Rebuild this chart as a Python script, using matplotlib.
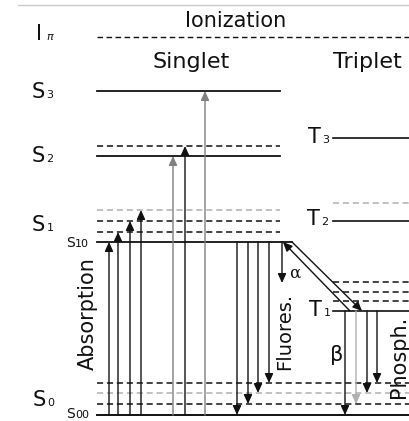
import matplotlib
matplotlib.use("Agg")
import matplotlib.pyplot as plt

# ---- data (diagram coordinates: x across, y = level position, top = 0) ----
ionization_y = 37
singlet_x = (97, 280)
triplet_x = (333, 410)

singlet_solid = [91, 156]                    # S3, S2
singlet_dashed = [146, 221, 232]             # vibrational sub-levels (dark)
singlet_dashed_light = [210]
s10_y = 242
s10_x = (97, 292)
s0_dashed = [383, 404]
s0_dashed_light = [393]
s00_y = 415

triplet_solid = [138, 221, 311]              # T3, T2, T1
triplet_dashed = [282, 292, 301]
triplet_dashed_light = [203]

abs_x = [109, 118, 130, 141, 173, 185, 205]
abs_to = [242, 232, 221, 210, 156, 146, 91]
abs_gray = [False, False, False, False, True, False, True]

flu_x = [237, 248, 258, 269]
flu_to = [415, 404, 393, 383]

phos_x = [345, 356, 367, 377]
phos_to = [415, 404, 393, 383]
phos_gray = [False, True, False, False]
t1_y = 311

alpha_arrow = (282, 242, 283)
isc_down = ((292, 242), (362, 311))
isc_up = ((350, 311), (283, 242))

level_labels = [("S", "3", 38, 92), ("S", "2", 38, 156), ("S", "1", 38, 225),
                ("S", "0", 39, 400), ("T", "3", 314, 137), ("T", "2", 313, 219),
                ("T", "1", 315, 310)]

# ---- drawing ----
fig = plt.figure(figsize=(4.10, 4.21), dpi=100)
ax = fig.add_axes([0, 0, 1, 1])
ax.set_xlim(0, 410)
ax.set_ylim(421, 0)
ax.axis("off")

DARK = "#111111"
LIGHT = "#b0b0b0"
MID = "#808080"

ax.plot([18, 410], [5, 5], color="#c8c8c8", lw=1)
ax.plot([97, 410], [ionization_y] * 2, color=DARK, lw=1, ls=(0, (4, 2.5)))

for y in singlet_solid:
    ax.plot(singlet_x, [y, y], color=DARK, lw=1.3)
for y in singlet_dashed:
    ax.plot(singlet_x, [y, y], color=DARK, lw=1.1, ls=(0, (4, 2.5)))
for y in singlet_dashed_light:
    ax.plot(singlet_x, [y, y], color=LIGHT, lw=1.1, ls=(0, (4, 2.5)))
ax.plot(s10_x, [s10_y] * 2, color=DARK, lw=1.3)
for y in s0_dashed:
    ax.plot([97, 410], [y, y], color=DARK, lw=1.1, ls=(0, (4, 2.5)))
for y in s0_dashed_light:
    ax.plot([97, 410], [y, y], color=LIGHT, lw=1.1, ls=(0, (4, 2.5)))
ax.plot([97, 410], [s00_y] * 2, color=DARK, lw=1.4)

for y in triplet_solid:
    ax.plot(triplet_x, [y, y], color=DARK, lw=1.2)
for y in triplet_dashed:
    ax.plot(triplet_x, [y, y], color=DARK, lw=1.1, ls=(0, (4, 2.5)))
for y in triplet_dashed_light:
    ax.plot(triplet_x, [y, y], color=LIGHT, lw=1.1, ls=(0, (4, 2.5)))


def arrow(x0, y0, x1, y1, color=DARK, lw=1.0):
    ax.annotate("", xy=(x1, y1), xytext=(x0, y0),
                arrowprops=dict(arrowstyle="-|>,head_length=0.55,head_width=0.25",
                                color=color, lw=lw, shrinkA=0, shrinkB=0,
                                mutation_scale=10))


for x, yt, g in zip(abs_x, abs_to, abs_gray):
    arrow(x, s00_y, x, yt, color=(MID if g else DARK))
for x, yb in zip(flu_x, flu_to):
    arrow(x, s10_y, x, yb)
for x, yb, g in zip(phos_x, phos_to, phos_gray):
    arrow(x, t1_y, x, yb, color=(LIGHT if g else DARK))
arrow(alpha_arrow[0], alpha_arrow[1], alpha_arrow[0], alpha_arrow[2])
arrow(*isc_down[0], *isc_down[1])
arrow(*isc_up[0], *isc_up[1])

# ---- texts ----
ax.text(236, 27, "Ionization", ha="center", va="baseline", fontsize=15, color=DARK)
ax.text(191, 68, "Singlet", ha="center", va="baseline", fontsize=16, color=DARK)
ax.text(367, 68, "Triplet", ha="center", va="baseline", fontsize=16, color=DARK)

ax.text(39, 40, "I", ha="center", va="baseline", fontsize=15, color=DARK)
ax.text(50, 40, "π", ha="center", va="baseline", fontsize=8, color=DARK, style="italic")

for big, small, x, y in level_labels:
    ax.text(x, y, big, ha="center", va="center", fontsize=15, color=DARK)
    ax.text(x + 12, y + 3, small, ha="center", va="center", fontsize=8, color=DARK)

ax.text(66, 247, "S", ha="left", va="baseline", fontsize=10, color=DARK)
ax.text(75, 247, "10", ha="left", va="baseline", fontsize=8, color=DARK)
ax.text(66, 418, "S", ha="left", va="baseline", fontsize=10, color=DARK)
ax.text(75, 418, "00", ha="left", va="baseline", fontsize=8, color=DARK)

ax.text(88, 314, "Absorption", rotation=90, ha="center", va="center", fontsize=15, color=DARK)
ax.text(285, 331, "Fluores.", rotation=90, ha="center", va="center", fontsize=14, color=DARK)
ax.text(399, 357, "Phosph.", rotation=90, ha="center", va="center", fontsize=15, color=DARK)
ax.text(295, 273, "α", ha="center", va="center", fontsize=12, color=DARK, family="DejaVu Serif")
ax.text(337, 355, "β", ha="center", va="center", fontsize=15, color=DARK)

fig.savefig("out.png", dpi=100)
